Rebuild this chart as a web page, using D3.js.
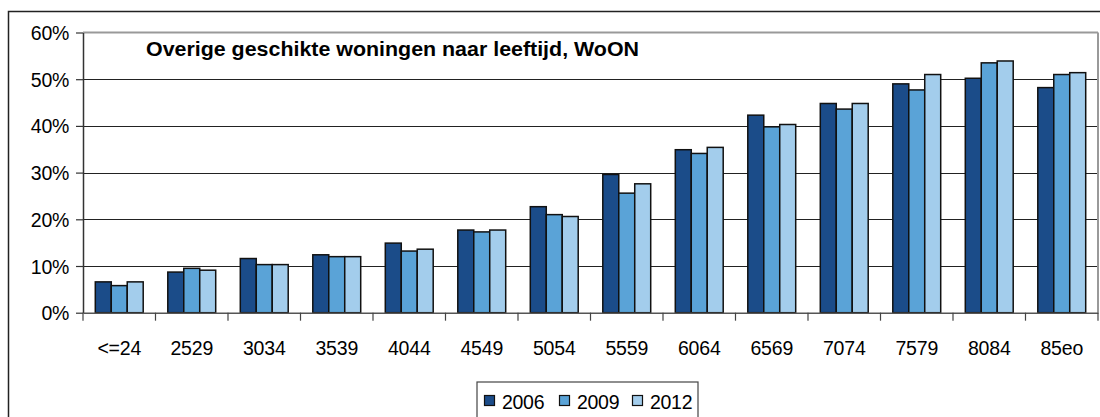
<!DOCTYPE html>
<html><head><meta charset="utf-8">
<script src="https://cdn.jsdelivr.net/npm/d3@7"></script>
<style>body{margin:0;background:#fff}svg{display:block}text{font-family:"Liberation Sans",Arial,sans-serif}</style>
</head><body><svg id="c" width="1100" height="417"></svg>
<script>
const categories=["<=24","2529","3034","3539","4044","4549","5054","5559","6064","6569","7074","7579","8084","85eo"];
const seriesNames=["2006","2009","2012"];
const v2006=[6.6,8.7,11.6,12.4,14.9,17.7,22.7,29.6,34.9,42.3,44.8,49.0,50.2,48.2];
const v2009=[5.8,9.5,10.3,12.0,13.2,17.3,21.0,25.6,34.1,39.8,43.6,47.7,53.5,51.0];
const v2012=[6.6,9.1,10.3,12.0,13.6,17.7,20.6,27.6,35.4,40.3,44.8,51.0,53.9,51.4];
const yTicks=[0,10,20,30,40,50,60];
const colors=["#1b4c89","#5aa3d7","#a3cdec"];
const title="Overige geschikte woningen naar leeftijd, WoON";
const series=[v2006,v2009,v2012];

const svg=d3.select("#c");
const L=83,R=1098,T=32.5,B=312.7;
svg.append("rect").attr("x",8.5).attr("y",11.5).attr("width",1200).attr("height",500).attr("fill","none").attr("stroke","#222").attr("stroke-width",1.5);

const x=d3.scaleBand().domain(categories).range([L,R]);
const xs=d3.scaleBand().domain(seriesNames).range([0,x.bandwidth()]).paddingInner(0).paddingOuter(0.77);
const y=d3.scaleLinear().domain([0,60]).range([B,T]);

// gridlines
svg.append("g").selectAll("line").data(yTicks.filter(t=>t>0&&t<60)).join("line")
 .attr("x1",L).attr("x2",R).attr("y1",d=>Math.round(y(d))+0.5).attr("y2",d=>Math.round(y(d))+0.5)
 .attr("stroke","#222").attr("stroke-width",1.2);
// plot border top/right gray
svg.append("line").attr("x1",L).attr("x2",R).attr("y1",T).attr("y2",T).attr("stroke","#999").attr("stroke-width",2);
svg.append("line").attr("x1",R).attr("x2",R).attr("y1",T).attr("y2",B).attr("stroke","#999").attr("stroke-width",2);

// bars
const g=svg.append("g");
series.forEach((s,si)=>{
 g.selectAll(null).data(s).join("rect")
  .attr("x",(d,i)=>x(categories[i])+xs(seriesNames[si]))
  .attr("y",d=>y(d))
  .attr("width",xs.bandwidth())
  .attr("height",d=>B-y(d))
  .attr("fill",colors[si]).attr("stroke","#111").attr("stroke-width",1.5);
});

// y axis
const ya=svg.append("g").attr("transform",`translate(${L},0)`)
 .call(d3.axisLeft(y).tickValues(yTicks).tickFormat(d=>d+"%").tickSize(7).tickSizeOuter(0));
ya.select(".domain").attr("stroke","#333").attr("stroke-width",1.5);
ya.selectAll(".tick line").attr("stroke","#333").attr("stroke-width",1.2);
ya.selectAll("text").attr("font-size",19.5).attr("fill","#000").attr("x",-14).attr("dy","0.36em").style("letter-spacing","-0.3px");

// x axis
const xa=svg.append("g").attr("transform",`translate(0,${B})`)
 .call(d3.axisBottom(x).tickSize(0).tickSizeOuter(0));
xa.select(".domain").attr("stroke","#555").attr("stroke-width",1.5);
xa.selectAll("text").attr("font-size",19.5).attr("fill","#000").attr("y",28).attr("dy","0.71em").style("letter-spacing","-0.2px");
// category boundary ticks
svg.append("g").selectAll("line").data(categories.map((c,i)=>i).concat([categories.length]))
 .join("line").attr("x1",i=>i<categories.length?x(categories[i]):R).attr("x2",i=>i<categories.length?x(categories[i]):R)
 .attr("y1",B).attr("y2",B+8).attr("stroke","#444").attr("stroke-width",1.2);

// title
svg.append("text").attr("x",146).attr("y",56).attr("font-size",19.5).attr("font-weight","bold").attr("fill","#000")
 .attr("textLength",493).attr("lengthAdjust","spacingAndGlyphs").text(title);

// legend
const lg=svg.append("g");
lg.append("rect").attr("x",477).attr("y",382).attr("width",221).attr("height",60).attr("fill","#fff").attr("stroke","#444").attr("stroke-width",1.2);
const lx=[484,559,632];
seriesNames.forEach((n,i)=>{
 lg.append("rect").attr("x",lx[i]+0.5).attr("y",395.5).attr("width",10).attr("height",10).attr("fill",colors[i]).attr("stroke","#111").attr("stroke-width",1.2);
 lg.append("text").attr("x",lx[i]+18).attr("y",409).attr("font-size",19.5).attr("fill","#000").style("letter-spacing","-0.3px").text(n);
});
</script></body></html>
